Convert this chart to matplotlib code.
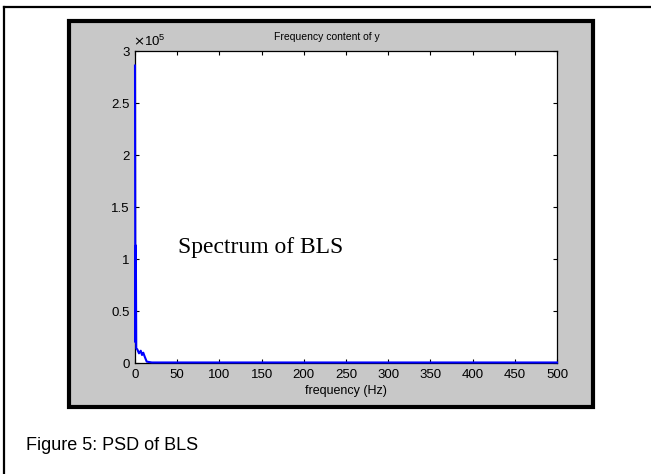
import matplotlib.pyplot as plt
from matplotlib.patches import Rectangle
from matplotlib.lines import Line2D

plt.rcParams['font.family'] = ['Liberation Sans', 'DejaVu Sans']

# PSD of the BLS signal, amplitude in units of 1e5
freq = [0, 0.5, 1.0, 1.5, 2.7, 4.7, 6.8, 8.3, 9.8, 11.5, 13.9, 20, 500]
psd = [2.86, 0.2, 1.13, 0.14, 0.132, 0.093, 0.118, 0.077, 0.099, 0.061, 0.013, 0.005, 0.005]
scale = 1e5

xticks = [0, 50, 100, 150, 200, 250, 300, 350, 400, 450, 500]
yticks = [0, 0.5, 1, 1.5, 2, 2.5, 3]
ylabels = ['0', '0.5', '1', '1.5', '2', '2.5', '3']

W, H = 651, 474
fig = plt.figure(figsize=(W / 100, H / 100), dpi=100)
fig.patch.set_facecolor('white')


def fx(px):
    return px / W


def fy(py):
    return 1 - py / H


# page border (left and top edge)
fig.add_artist(Line2D([fx(4), fx(4)], [fy(7), 0], color='black', lw=1.6, zorder=-2))
fig.add_artist(Line2D([fx(4), 1], [fy(7), fy(7)], color='black', lw=1.6, zorder=-2))

# grey figure window with thick black frame
fig.add_artist(Rectangle((fx(69), fy(407)), fx(593) - fx(69), fy(21) - fy(407),
                         facecolor='#c8c8c8', edgecolor='black', lw=3,
                         transform=fig.transFigure, zorder=-1))

ax = fig.add_axes([fx(135), fy(363), fx(557) - fx(135), fy(51) - fy(363)])
ax.set_zorder(1)
ax.set_facecolor('white')
ax.plot(freq, [v * scale for v in psd], color='#0000ff', lw=1.5,
        clip_on=False, zorder=4)

ax.set_xlim(0, 500)
ax.set_ylim(0, 3 * scale)
ax.set_xticks(xticks)
ax.set_xticklabels([str(t) for t in xticks])
ax.set_yticks([t * scale for t in yticks])
ax.set_yticklabels(ylabels)
ax.tick_params(direction='in', length=3, width=0.8, labelsize=9.5, pad=4,
               top=True, right=True, colors='black')
for s in ax.spines.values():
    s.set_linewidth(0.9)

fig.text(fx(346), fy(391), 'frequency (Hz)', ha='center', va='center', fontsize=9, zorder=5)
fig.text(fx(327), fy(37), 'Frequency content of y', ha='center', va='center', fontsize=7.5, zorder=5)
fig.text(fx(133), fy(41), r'$\times\mathregular{10^5}$', ha='left', va='center', fontsize=9.5, zorder=5)

fig.text(fx(178), fy(253), 'Spectrum of BLS', ha='left', va='baseline',
         fontsize=17, family='Liberation Serif', zorder=5)

fig.text(fx(26), fy(445), 'Figure 5: PSD of BLS', ha='left', va='center', fontsize=13, zorder=5)

fig.savefig('out.png', dpi=100)
